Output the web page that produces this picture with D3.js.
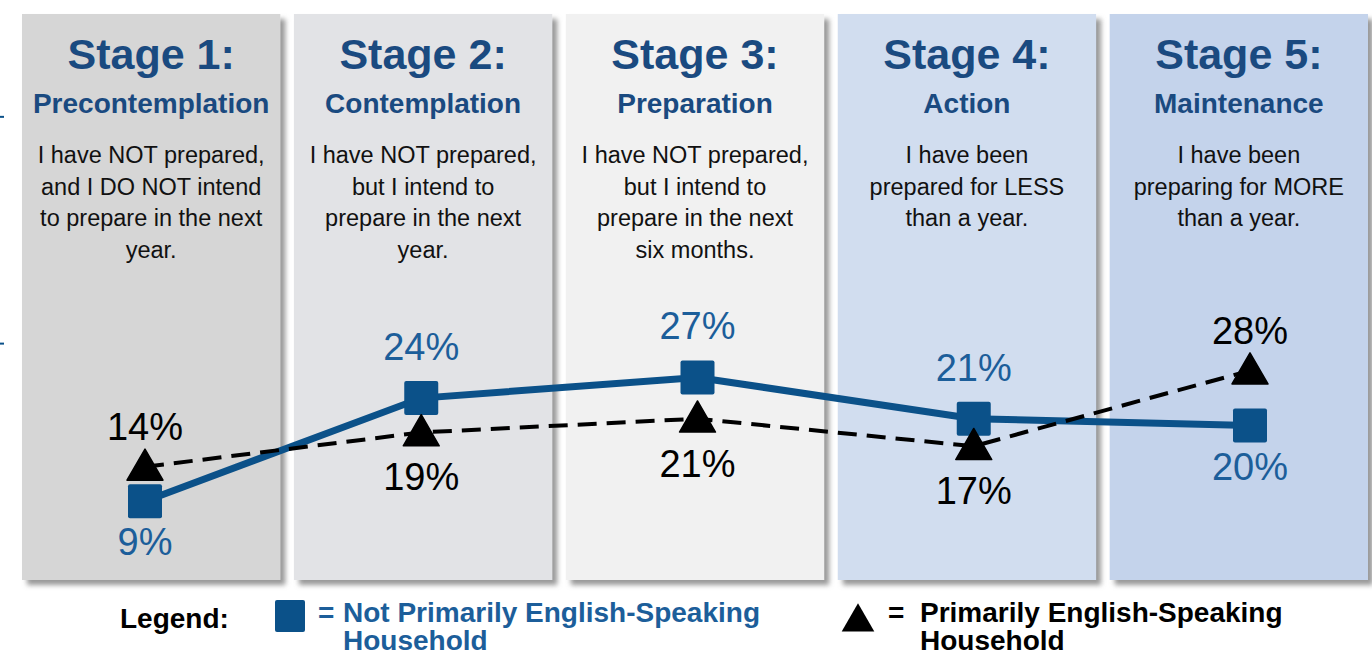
<!DOCTYPE html>
<html>
<head>
<meta charset="utf-8">
<script src="https://cdn.jsdelivr.net/npm/d3@7"></script>
<style>
  body { margin: 0; background: #fff; }
  svg { display: block; }
</style>
</head>
<body>
<div id="chart"></div>
<script>
// stage info
var stages = ["Stage 1:", "Stage 2:", "Stage 3:", "Stage 4:", "Stage 5:"];
var stageNames = ["Precontemplation", "Contemplation", "Preparation", "Action", "Maintenance"];
var stageText = [
  ["I have NOT prepared,", "and I DO NOT intend", "to prepare in the next", "year."],
  ["I have NOT prepared,", "but I intend to", "prepare in the next", "year."],
  ["I have NOT prepared,", "but I intend to", "prepare in the next", "six months."],
  ["I have been", "prepared for LESS", "than a year."],
  ["I have been", "preparing for MORE", "than a year."]
];
var panelColors = ["#d6d6d6", "#e2e3e6", "#f1f1f1", "#d1ddef", "#c4d3eb"];

// series values (percent)
var notEnglish = [9, 24, 27, 21, 20];
var english = [14, 19, 21, 17, 28];
// where the value label goes
var notEnglishPos = ["below", "above", "above", "above", "below"];
var englishPos = ["above", "below", "below", "below", "above"];
var yTicks = [32, 65];

var width = 1372, height = 656;
var blue = "#0b5189", blueText = "#1c5e9a", titleBlue = "#1a4a80";

var svg = d3.select("#chart")
  .append("svg")
    .attr("width", width)
    .attr("height", height);

// drop shadow for the panels
var defs = svg.append("defs");
var f = defs.append("filter").attr("id", "shadow")
  .attr("x", "-5%").attr("y", "-5%").attr("width", "115%").attr("height", "115%");
f.append("feDropShadow")
  .attr("dx", 5).attr("dy", 5).attr("stdDeviation", 2.5)
  .attr("flood-color", "#777").attr("flood-opacity", 0.75);

// panels
var xb = d3.scaleBand()
  .domain(d3.range(5))
  .range([22, 1368])
  .paddingInner(0.05);

var panelTop = 14, panelBottom = 580;

svg.selectAll("rect.panel")
  .data(d3.range(5))
  .enter()
  .append("rect")
    .attr("class", "panel")
    .attr("x", function(i) { return xb(i); })
    .attr("y", panelTop)
    .attr("width", xb.bandwidth())
    .attr("height", panelBottom - panelTop)
    .attr("fill", function(i) { return panelColors[i]; })
    .attr("filter", "url(#shadow)");

var font = "'Liberation Sans', Arial, sans-serif";

var heads = svg.selectAll("g.head")
  .data(d3.range(5))
  .enter()
  .append("g")
    .attr("transform", function(i) { return "translate(" + (xb(i) + xb.bandwidth() / 2) + ",0)"; })
    .style("font-family", font)
    .attr("text-anchor", "middle");

heads.append("text")
  .attr("y", 69)
  .attr("font-size", 43)
  .attr("font-weight", "bold")
  .attr("fill", titleBlue)
  .text(function(i) { return stages[i]; });

heads.append("text")
  .attr("y", 113)
  .attr("font-size", 28)
  .attr("font-weight", "bold")
  .attr("fill", titleBlue)
  .text(function(i) { return stageNames[i]; });

heads.each(function(i) {
  d3.select(this).selectAll("text.body")
    .data(stageText[i])
    .enter()
    .append("text")
      .attr("class", "body")
      .attr("y", function(d, j) { return 163 + j * 31.7; })
      .attr("font-size", 23.5)
      .attr("fill", "#111")
      .text(function(d) { return d; });
});

// scales for the lines
var x = d3.scalePoint()
  .domain(d3.range(5))
  .range([145, 1250]);

var y = d3.scaleLinear()
  .domain([0, 70])
  .range([563, 82]);

// small left axis ticks
svg.append("g")
  .attr("transform", "translate(4,0)")
  .call(d3.axisLeft(y).tickValues(yTicks).tickSize(4).tickFormat(""))
  .call(function(g) { g.select(".domain").remove(); })
  .selectAll("line")
    .attr("stroke", blue)
    .attr("stroke-width", 2);

var line = d3.line()
  .x(function(d, i) { return x(i); })
  .y(function(d) { return y(d); });

svg.append("path")
  .datum(notEnglish)
  .attr("d", line)
  .attr("fill", "none")
  .attr("stroke", blue)
  .attr("stroke-width", 7);

svg.append("path")
  .datum(english)
  .attr("d", line)
  .attr("fill", "none")
  .attr("stroke", "#000")
  .attr("stroke-width", 4)
  .attr("stroke-dasharray", "19,10");

// square markers
svg.selectAll("rect.sq")
  .data(notEnglish)
  .enter()
  .append("rect")
    .attr("class", "sq")
    .attr("x", function(d, i) { return x(i) - 17; })
    .attr("y", function(d) { return y(d) - 17; })
    .attr("width", 34)
    .attr("height", 34)
    .attr("rx", 2)
    .attr("fill", blue);

// triangle markers
svg.selectAll("path.tri")
  .data(english)
  .enter()
  .append("path")
    .attr("class", "tri")
    .attr("d", d3.symbol().type(d3.symbolTriangle).size(560))
    .attr("transform", function(d, i) { return "translate(" + x(i) + "," + (y(d) + 3) + ")"; })
    .attr("fill", "#000")
    .attr("stroke", "#000")
    .attr("stroke-width", 1.5)
    .attr("stroke-linejoin", "round");

// value labels
svg.selectAll("text.lblA")
  .data(notEnglish)
  .enter()
  .append("text")
    .attr("x", function(d, i) { return x(i); })
    .attr("y", function(d, i) { return y(d) + (notEnglishPos[i] == "above" ? -38 : 54); })
    .attr("text-anchor", "middle")
    .style("font-family", font)
    .attr("font-size", 38)
    .attr("fill", blueText)
    .text(function(d) { return d + "%"; });

svg.selectAll("text.lblB")
  .data(english)
  .enter()
  .append("text")
    .attr("x", function(d, i) { return x(i); })
    .attr("y", function(d, i) { return y(d) + (englishPos[i] == "above" ? -27 : 58); })
    .attr("text-anchor", "middle")
    .style("font-family", font)
    .attr("font-size", 38)
    .attr("fill", "#000")
    .text(function(d) { return d + "%"; });

// legend
var leg = svg.append("g")
  .style("font-family", font)
  .attr("font-weight", "bold")
  .attr("font-size", 28);

leg.append("text").attr("x", 120).attr("y", 628).attr("fill", "#000").text("Legend:");

leg.append("rect")
  .attr("x", 275).attr("y", 600).attr("width", 30).attr("height", 32).attr("rx", 2)
  .attr("fill", blue);
leg.append("text").attr("x", 318).attr("y", 622).attr("fill", blueText).text("=");
leg.append("text").attr("x", 343).attr("y", 622).attr("fill", blueText).text("Not Primarily English-Speaking");
leg.append("text").attr("x", 343).attr("y", 650).attr("fill", blueText).text("Household");

leg.append("path")
  .attr("d", d3.symbol().type(d3.symbolTriangle).size(460))
  .attr("transform", "translate(858,622)")
  .attr("fill", "#000");
leg.append("text").attr("x", 888).attr("y", 622).attr("fill", "#000").text("=");
leg.append("text").attr("x", 920).attr("y", 622).attr("fill", "#000").text("Primarily English-Speaking");
leg.append("text").attr("x", 920).attr("y", 650).attr("fill", "#000").text("Household");
</script>
</body>
</html>
